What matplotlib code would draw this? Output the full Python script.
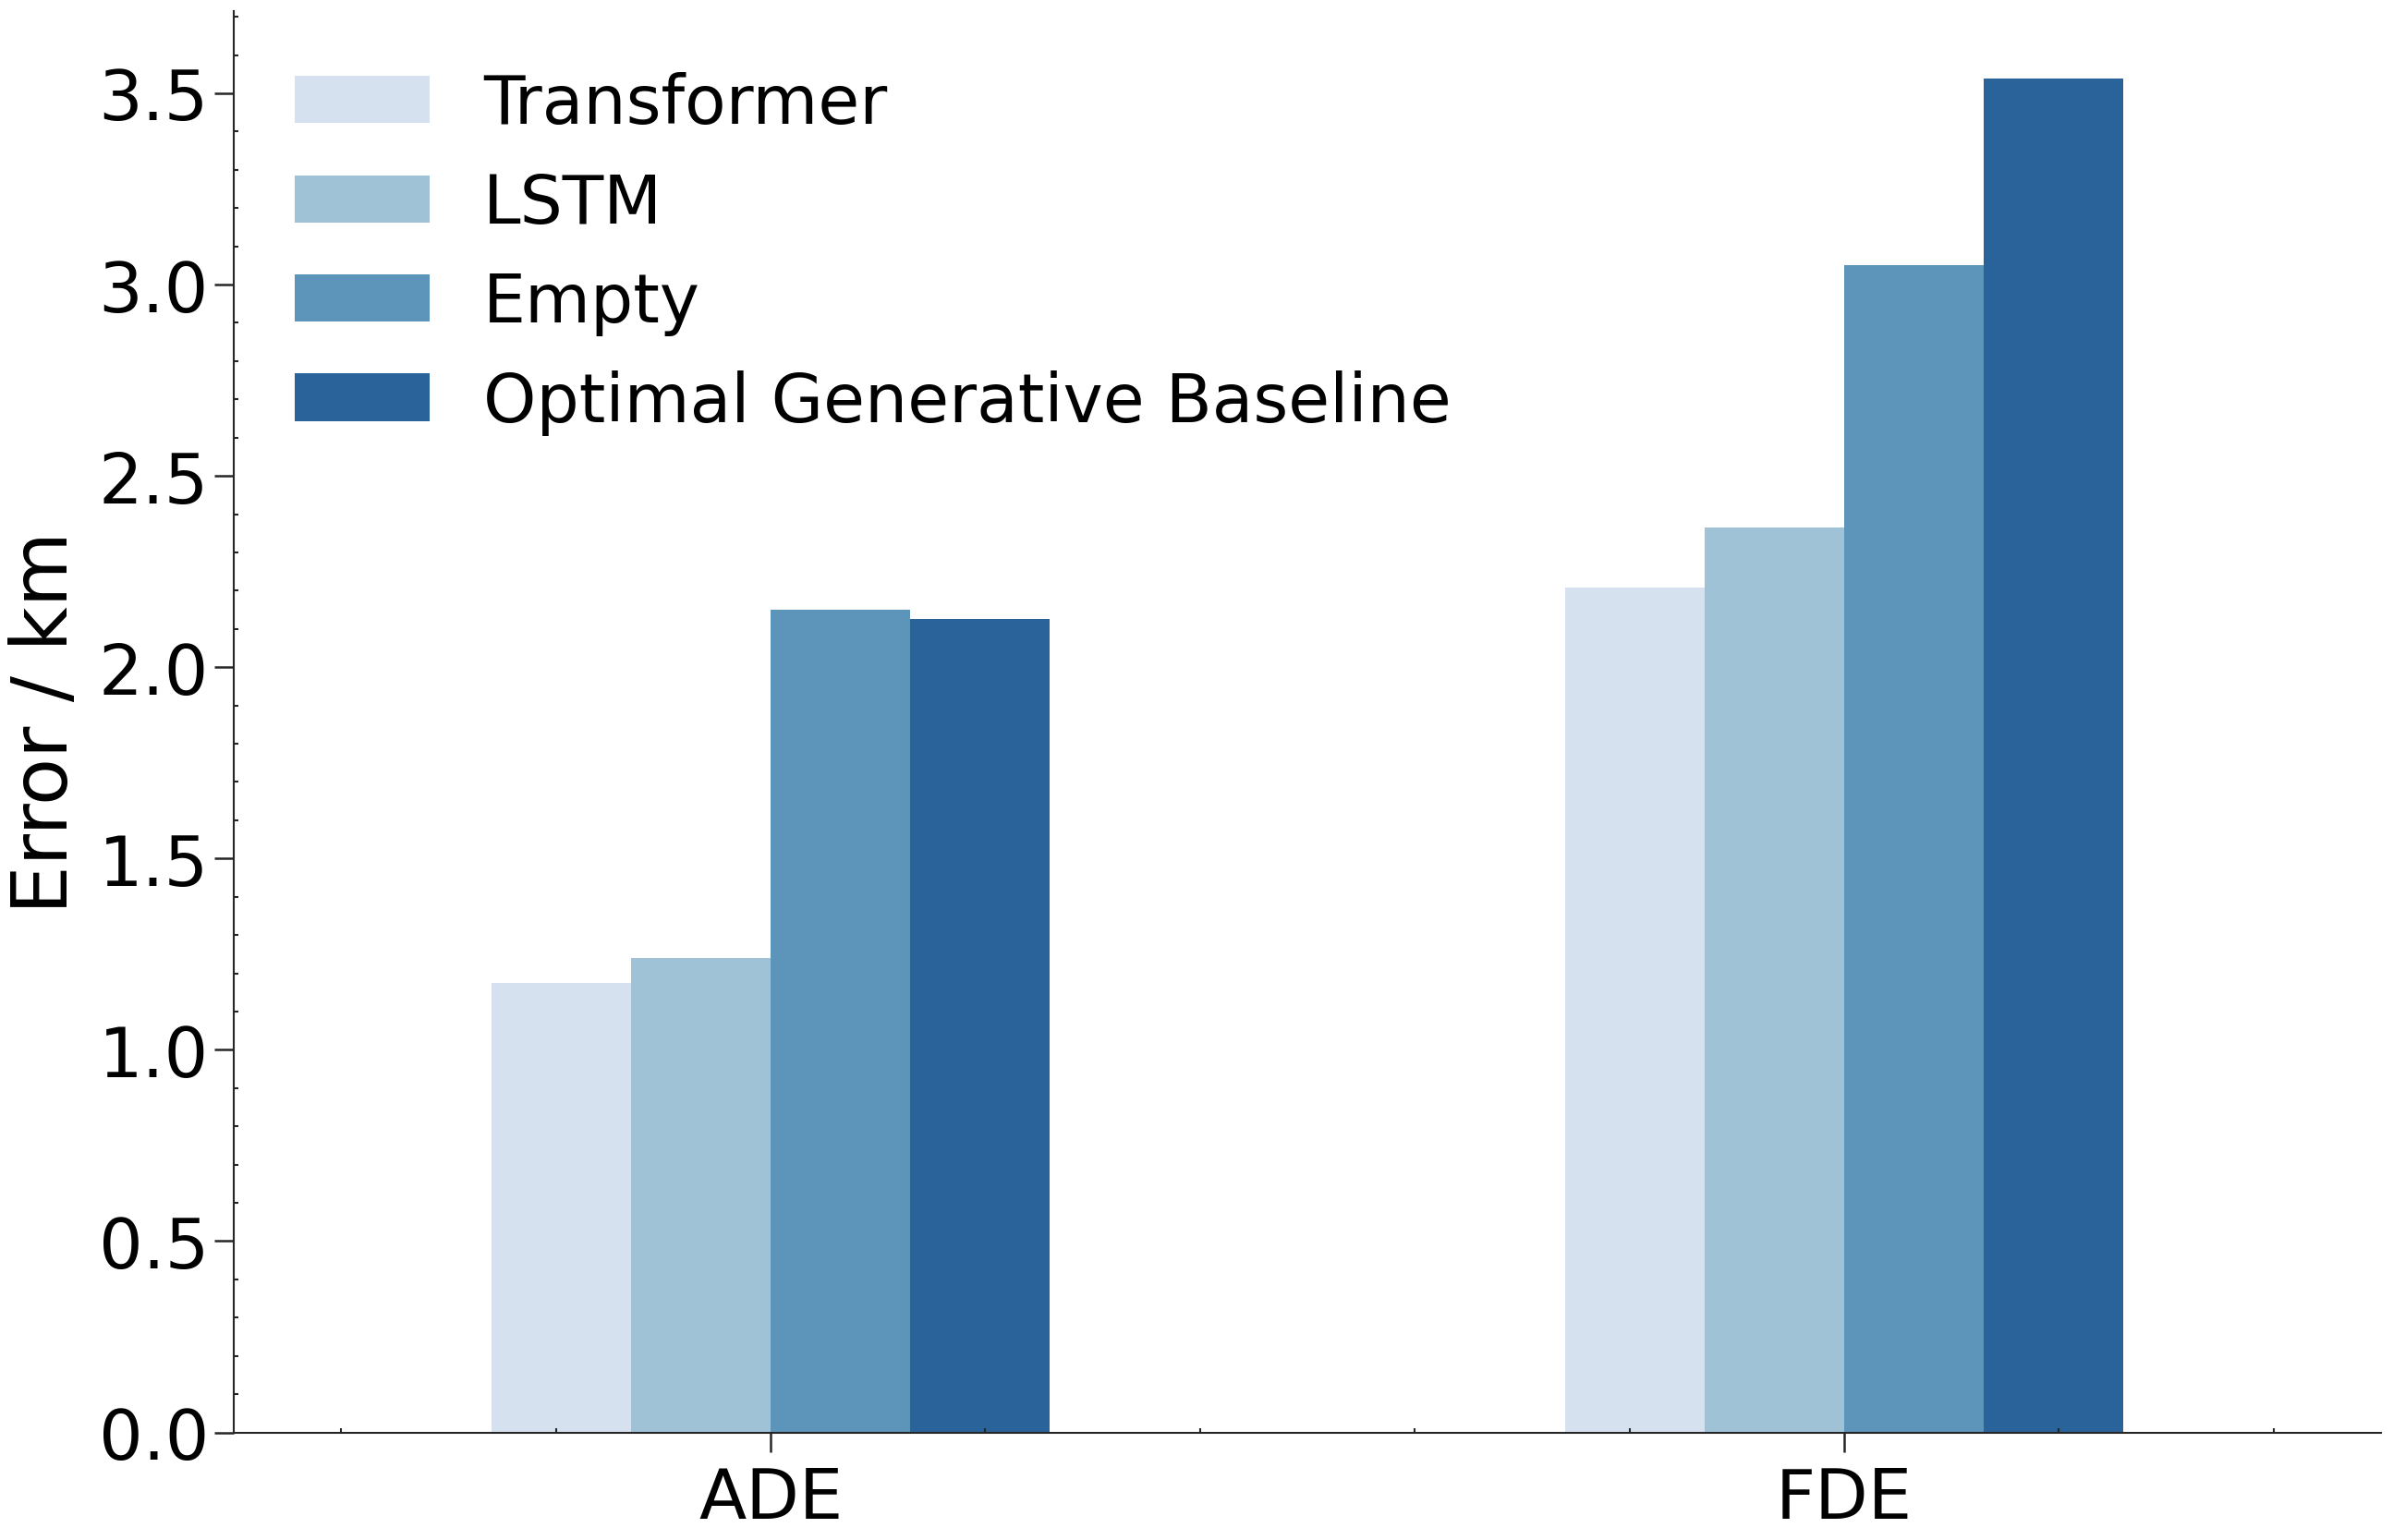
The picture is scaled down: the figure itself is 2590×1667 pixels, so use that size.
import numpy as np
import matplotlib
matplotlib.use('Agg')
import matplotlib.pyplot as plt

metrics = ['ADE', 'FDE']
models = ['Transformer', 'LSTM', 'Empty', 'Optimal Generative Baseline']

transformer = [1.174, 2.207]
lstm = [1.239, 2.364]
empty = [2.151, 3.051]
optimal = [2.125, 3.539]

colors = ['#d6e1ef', '#9fc2d6', '#5c94ba', '#2a6399']

fig = plt.figure(figsize=(2590/300, 1668/300), dpi=300)
ax = fig.add_axes([0.0977, 0.0698, 0.995 - 0.0977, 0.9925 - 0.0698])

x = np.arange(len(metrics))
width = 0.13
series = [transformer, lstm, empty, optimal]
for i, vals in enumerate(series):
    ax.bar(x + (i - 1.5)*width, vals, width, color=colors[i], label=models[i])

ax.set_xlim(-0.5, 1.5)
ax.set_xticks(x)
ax.set_xticklabels(metrics)
ax.minorticks_on()

for s in ['top', 'right']:
    ax.spines[s].set_visible(False)
for s in ['left', 'bottom']:
    ax.spines[s].set_linewidth(0.5)
    ax.spines[s].set_color('#262626')

ax.tick_params(which='major', direction='out', length=5, width=0.6,
               labelsize=18, color='#262626')
ax.tick_params(which='minor', direction='in', length=1.2, width=0.5,
               color='#262626')
ax.tick_params(axis='y', which='major', pad=1.5)

ax.set_ylabel('Error / km', fontsize=20, labelpad=4)

ax.legend(loc='upper left', frameon=False, fontsize=17.5, labelspacing=0.5)

fig.savefig('out.png', dpi=300)
